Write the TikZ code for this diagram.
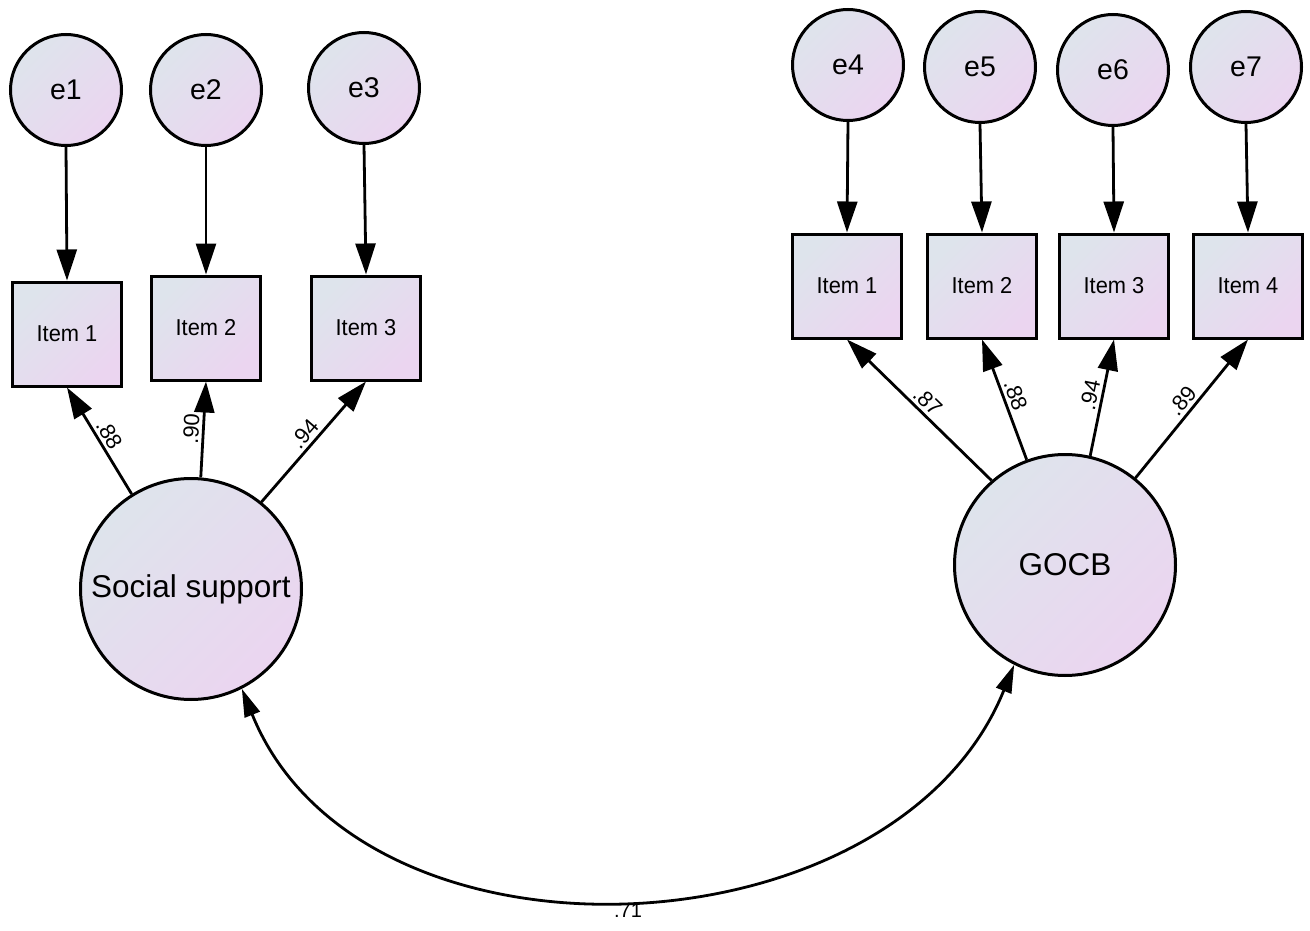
\documentclass[tikz,border=0pt]{standalone}
\usepackage{fontspec}
\setmainfont{Liberation Sans}
\newfontfamily\itemfont[FakeStretch=0.95]{Liberation Sans}
\usepackage{tikz}
\usetikzlibrary{arrows.meta}
\definecolor{semtop}{RGB}{222,228,236}
\definecolor{sembot}{RGB}{235,213,240}
\begin{document}
\begin{tikzpicture}[x=1pt,y=-1pt,
fillgrad/.style={draw=black,line width=3pt,top color=semtop,bottom color=sembot,shading angle=45},
errc/.style={fillgrad,circle,minimum size=111pt,inner sep=0pt,font=\fontsize{28.5}{31}\selectfont},
itembox/.style={fillgrad,rectangle,minimum width=109pt,minimum height=104pt,inner sep=0pt,font=\itemfont\fontsize{23}{26}\selectfont},
latent/.style={fillgrad,circle,minimum size=221pt,inner sep=0pt,font=\fontsize{31.5}{35}\selectfont},
arr/.style={line width=2.8pt,-{Triangle[length=31pt,width=20pt]}},
cov/.style={line width=2.8pt,{Triangle[length=28pt,width=16pt]}-{Triangle[length=28pt,width=16pt]}},
coef/.style={font=\fontsize{22}{24}\selectfont,sloped,above,inner sep=3pt}]
\useasboundingbox (0,0) rectangle (1310,931);
\node[errc] (e1) at (66,90) {e1};
\node[errc] (e2) at (206,90) {e2};
\node[errc] (e3) at (364,88) {e3};
\node[errc] (e4) at (848,65) {e4};
\node[errc] (e5) at (980,67) {e5};
\node[errc] (e6) at (1113,70) {e6};
\node[errc] (e7) at (1246,67) {e7};
\node[itembox] (s1) at (67,334) {Item 1};
\node[itembox] (s2) at (206,328) {Item 2};
\node[itembox] (s3) at (366,328) {Item 3};
\node[itembox] (g1) at (847,286) {Item 1};
\node[itembox] (g2) at (982,286) {Item 2};
\node[itembox] (g3) at (1114,286) {Item 3};
\node[itembox] (g4) at (1248,286) {Item 4};
\node[latent] (ss) at (191,589) {Social support};
\node[latent] (gocb) at (1065,565) {GOCB};
\draw[arr] (e1.south) -- (s1.north);
\draw[arr] (e2.south) -- (s2.north);
\draw[arr] (e3.south) -- (s3.north);
\draw[arr] (e4.south) -- (g1.north);
\draw[arr] (e5.south) -- (g2.north);
\draw[arr] (e6.south) -- (g3.north);
\draw[arr] (e7.south) -- (g4.north);
\draw[arr] (ss.122) -- node[coef] {.88} (s1.south);
\draw[arr] (ss.85) -- node[coef] {.90} (s2.south);
\draw[arr] (ss.51) -- node[coef] {.94} (s3.south);
\draw[arr] (gocb.131) -- node[coef] {.87} (g1.south);
\draw[arr] (gocb.110) -- node[coef] {.88} (g2.south);
\draw[arr] (gocb.77) -- node[coef] {.94} (g3.south);
\draw[arr] (gocb.51) -- node[coef] {.89} (g4.south);
\draw[cov] (ss.-63) to[out=-68,in=-112,looseness=1.05] node[below,inner sep=5pt,font=\fontsize{20}{22}\selectfont] {.71} (gocb.-117);
\end{tikzpicture}
\end{document}
